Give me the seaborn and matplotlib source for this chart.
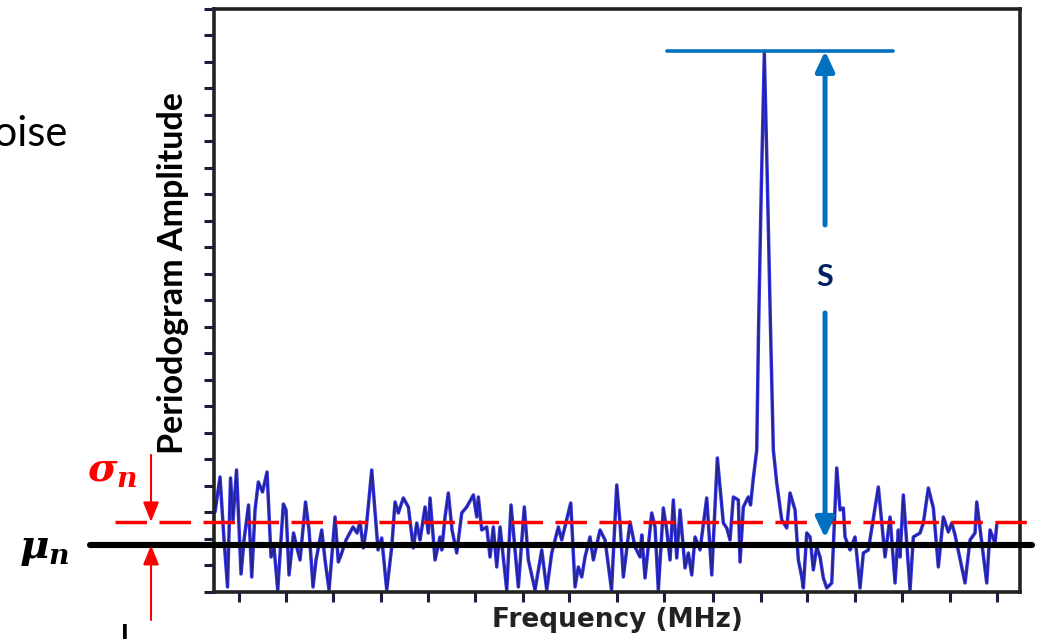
import matplotlib
matplotlib.use("Agg")
import matplotlib.pyplot as plt
import seaborn as sns
import pandas as pd
from matplotlib import patheffects as pe
from matplotlib.patches import ArrowStyle

# ---------------- data ----------------
freq_mhz = [1, 6, 10, 13.5, 16.5, 19, 22.5, 27, 30, 34.5, 37.7, 41, 44.3, 48.5, 53, 57, 60, 63.7,
            69.3, 72, 75, 79.5, 83, 86, 91.5, 95, 99, 102, 107.7, 111, 115, 121, 124.3, 127, 132,
            139, 143, 146, 149.3, 152, 157.7, 164, 167.7, 172.7, 177.7, 181, 184.3, 189.3, 194.3,
            199.3, 202.7, 206, 211, 214.3, 216, 221, 226, 227.7, 231, 234.3, 238, 242.7, 247.7,
            252.7, 259.3, 262.7, 264.3, 267.7, 272.7, 276, 279.3, 282.7, 286, 292.7, 297, 304.3,
            310.3, 314.3, 321, 327.7, 332.7, 337.7, 344.3, 347.7, 356.7, 361, 364.3, 367.7, 371,
            376, 379.3, 386, 391, 397.5, 402.7, 406, 409.3, 416, 421, 426, 427.7, 431, 437.7, 441,
            444.3, 449.3, 452.7, 456, 459.3, 462.7, 466, 471, 474.3, 477.7, 481, 486, 492.7, 497.7,
            501, 503.3, 509.3, 512.7, 516, 519.3, 524.3, 526, 529.3, 534.3, 536.5, 539.3, 542.7,
            544.5, 547.2, 550.3, 553.5, 556.5, 559.3, 562.7, 567.7, 572.7, 576, 581, 584.3, 587.7,
            589.3, 592.7, 596, 599.3, 602.7, 606, 609.3, 612.7, 617.7, 622.7, 626, 629.3, 631, 636,
            641, 646, 649.3, 654.3, 664.3, 671, 676, 681, 684.3, 686, 689.3, 696, 699.3, 706, 709.3,
            714.3, 719.3, 724.3, 729.3, 734.3, 737.7, 741, 751, 756, 761, 762.7, 772.7, 776, 781,
            782.7]
amplitude = [80, 115, 52, 5, 114, 72, 122, 18, 52, 87, 15, 82, 110, 100, 120, 35, 44, 2,
             88, 82, 17, 59, 44, 32, 90, 62, 5, 32, 62, 32, 2, 75, 30, 37, 52,
             65, 59, 70, 44, 62, 122, 42, 54, 2, 45, 90, 79, 94, 85,
             44, 69, 52, 85, 59, 94, 32, 55, 42, 75, 99, 62, 39, 79,
             85, 97, 75, 95, 62, 65, 35, 65, 25, 65, 2, 87, 5,
             85, 32, 2, 42, 2, 39, 65, 52, 89, 5, 25, 15, 35,
             55, 32, 62, 52, 2, 107, 69, 15, 70, 45, 35, 57, 14, 79, 65,
             2, 84, 62, 32, 92, 34, 82, 24, 39, 17, 55, 42, 94, 17,
             85, 134, 69, 64, 52, 95, 92, 30, 85, 95, 87, 114, 142,
             262, 402, 539, 402, 262, 142, 109, 72, 64, 99, 82, 32, 15,
             4, 59, 55, 22, 45, 35, 14, 4, 9, 124, 82, 84, 55, 42,
             55, 4, 39, 42, 105, 35, 75, 9, 62, 35, 97, 2, 55, 59, 69,
             104, 84, 25, 75, 60, 69, 57, 9, 52, 59, 90, 9, 62, 49,
             67]

mu_n = 47          # mean noise level
sigma_level = 70   # mean + sigma
s_level = 541      # top of the S bracket

x_ticks = [25.3, 72, 119.3, 166.7, 214.3, 261, 308.7, 355.3, 402.7, 450.3, 498.7, 547,
           593.3, 641, 688.3, 736, 782.7]
y_ticks = [0, 26.5, 53, 79.5, 106, 132.5, 159, 185.5, 212, 238.5, 265, 291.5, 318, 344.5,
           371, 397.5, 424, 450.5, 477, 503.5, 530, 556.5, 583]

df = pd.DataFrame({"Frequency": freq_mhz, "Amplitude": amplitude})

# ---------------- figure ----------------
sns.set_theme(style="ticks")
plt.rcParams["mathtext.fontset"] = "custom"
plt.rcParams["mathtext.it"] = "DejaVu Serif:italic:bold"
plt.rcParams["mathtext.rm"] = "DejaVu Serif:bold"
plt.rcParams["mathtext.bf"] = "DejaVu Serif:bold"

fig = plt.figure(figsize=(10.38, 6.39), dpi=100)
fig.patch.set_facecolor("white")
ax = fig.add_axes([0.2062, 0.0736, 0.7765, 0.9124])

sns.lineplot(data=df, x="Frequency", y="Amplitude", ax=ax, color="#22228a", lw=1.0,
             estimator=None, sort=False)
ax.lines[0].set_path_effects([pe.Stroke(linewidth=2.5, foreground="#3535e6"), pe.Normal()])

ax.set_xlim(0, 806)
ax.set_ylim(0, 583)
ax.set_xticks(x_ticks)
ax.set_yticks(y_ticks)
ax.tick_params(direction="out", length=7, width=2.2, color="#1c1c40",
               labelleft=False, labelbottom=False)
for s in ax.spines.values():
    s.set_linewidth(2.6)
    s.set_color("#222222")
    s.set_visible(True)

ax.set_xlabel("Frequency (MHz)", fontsize=19, fontweight="bold", color="#222222", labelpad=4)
ax.set_ylabel("")

fig.text(173 / 1038, 1 - 273 / 639, "Periodogram Amplitude", rotation=90, ha="center",
         va="center", fontsize=24.5, fontweight="bold", family="Lato", color="black")

# mean and sigma lines extending outside the plot
ax.axhline(mu_n, xmin=-0.1538, xmax=1.0149, color="black", lw=4.4, clip_on=False, zorder=5)
ax.axhline(sigma_level, xmin=-0.1228, xmax=1.0087, color="#ff0000", lw=2.5, clip_on=False,
           zorder=6, linestyle=(0, (9.07, 3.6)))

# red sigma arrows
red_x = -0.0782
ast_red = ArrowStyle("-|>", head_length=0.6, head_width=0.24)
ax.annotate("", xy=(red_x, sigma_level), xytext=(red_x, 137),
            xycoords=("axes fraction", "data"), textcoords=("axes fraction", "data"),
            arrowprops=dict(arrowstyle=ast_red, color="#ff0000", lw=1.5, shrinkA=0, shrinkB=0,
                            mutation_scale=20), annotation_clip=False)
ax.annotate("", xy=(red_x, mu_n), xytext=(red_x, -28),
            xycoords=("axes fraction", "data"), textcoords=("axes fraction", "data"),
            arrowprops=dict(arrowstyle=ast_red, color="#ff0000", lw=1.5, shrinkA=0, shrinkB=0,
                            mutation_scale=20), annotation_clip=False)

# blue S bracket
blue = "#0070C0"
ax.axhline(s_level, xmin=0.562, xmax=0.8424, color=blue, lw=2.6, clip_on=False, zorder=6)
ast_blue = ArrowStyle("-|>", head_length=0.6, head_width=0.28)
ax.annotate("", xy=(611, s_level), xytext=(611, 367),
            arrowprops=dict(arrowstyle=ast_blue, color=blue, lw=3.6, shrinkA=0, shrinkB=0,
                            mutation_scale=20), annotation_clip=False, zorder=7)
ax.annotate("", xy=(611, mu_n + 7), xytext=(611, 279),
            arrowprops=dict(arrowstyle=ast_blue, color=blue, lw=3.6, shrinkA=0, shrinkB=0,
                            mutation_scale=20), annotation_clip=False, zorder=7)
ax.text(611, 315, "S", color="#002060", fontsize=22, fontweight="bold", family="Lato",
        ha="center", va="center")

# slide texts
fig.text(68 / 1038, 1 - 146 / 639, "Noise", ha="right", va="baseline", fontsize=30,
         family="Lato", color="black")
fig.text(87 / 1038, 1 - 470 / 639, r"$\sigma_n$", color="#ff0000", fontsize=29,
         ha="left", va="center")
fig.text(19 / 1038, 1 - 548 / 639, r"$\mu_n$", color="black", fontsize=29,
         ha="left", va="center")
fig.text(125 / 1038, 1 - 655 / 639, "l", ha="center", va="baseline", fontsize=30,
         family="Lato", color="black")

fig.savefig("out.png", dpi=100, facecolor="white")
